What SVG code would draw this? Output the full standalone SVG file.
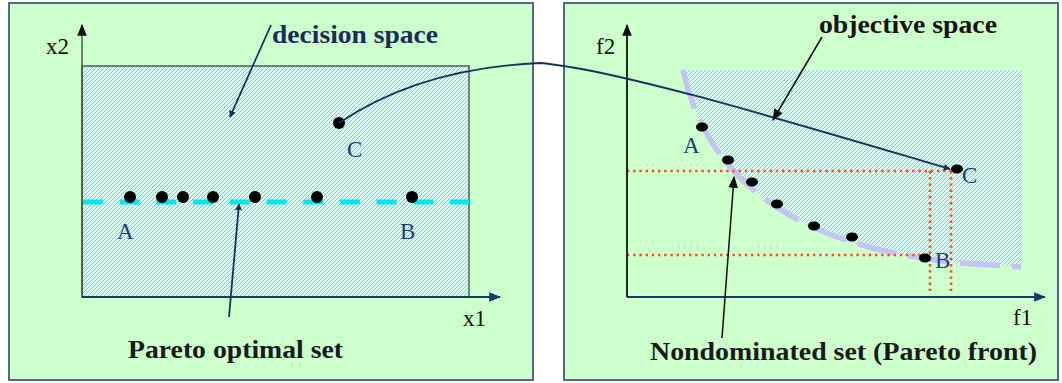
<svg xmlns="http://www.w3.org/2000/svg" width="1062" height="383" viewBox="0 0 1062 383">
<defs>
<pattern id="hatch" width="4" height="4" patternUnits="userSpaceOnUse">
<rect width="4" height="4" fill="#d6faf0"/>
<path d="M-1,1 L1,-1 M0,4 L4,0 M3,5 L5,3" stroke="#52dcbc" stroke-width="0.9"/>
</pattern>
<marker id="ah" viewBox="0 0 10 10" refX="9" refY="5" markerWidth="7" markerHeight="7" orient="auto" markerUnits="userSpaceOnUse">
<path d="M0,0 L10,5 L0,10 z" fill="#1a2f5a"/>
</marker>
<marker id="ahk" viewBox="0 0 10 10" refX="9" refY="5" markerWidth="12" markerHeight="12" orient="auto" markerUnits="userSpaceOnUse">
<path d="M0,1 L10,5 L0,9 z" fill="#111111"/>
</marker>
<marker id="ahb" viewBox="0 0 10 10" refX="9" refY="5" markerWidth="12" markerHeight="12" orient="auto" markerUnits="userSpaceOnUse">
<path d="M0,1 L10,5 L0,9 z" fill="#1a3a66"/>
</marker>
</defs>
<style>
.panel{fill:#ccffcc;stroke:#4f6a7e;stroke-width:2}
.title{font-family:"Liberation Serif","Times New Roman",serif;font-weight:bold;font-size:25px}
.axl{font-family:"Liberation Serif","Times New Roman",serif;font-size:23px;fill:#111}
.pt{font-family:"Liberation Serif","Times New Roman",serif;font-size:23px;fill:#1f3a7a}
.conn{fill:none;stroke:#1a2f5a;stroke-width:1.8}
.red{fill:none;stroke:#ff4a2a;stroke-width:2.6;stroke-dasharray:2.4 3.8}
.dot{fill:#000}
</style>
<rect width="1062" height="383" fill="#ffffff"/>
<g id="left-panel">
<rect class="panel" x="9" y="3" width="524" height="377"/>
<rect x="82" y="66" width="387" height="231" fill="url(#hatch)" stroke="#4a5a6a" stroke-width="1.5"/>
<line x1="83" y1="202" x2="469" y2="202" stroke="#00e8f0" stroke-width="5" stroke-dasharray="20 16.7"/>
<line x1="82" y1="297" x2="82" y2="25" stroke="#555" stroke-width="1.5" marker-end="url(#ahk)"/>
<line x1="82" y1="297" x2="500" y2="297" stroke="#1a3a66" stroke-width="2" marker-end="url(#ahb)"/>
<text class="axl" x="46" y="54">x2</text>
<text class="axl" x="463" y="326">x1</text>
<text class="title" x="272" y="43" fill="#1c2a5c" textLength="166" lengthAdjust="spacingAndGlyphs">decision space</text>
<text class="title" x="128" y="358" fill="#1a1a1a" textLength="215" lengthAdjust="spacingAndGlyphs">Pareto optimal set</text>
</g>
<g id="decision-points">
<circle class="dot" cx="130" cy="197" r="6"/>
<circle class="dot" cx="162" cy="197" r="6"/>
<circle class="dot" cx="183" cy="197" r="6"/>
<circle class="dot" cx="213" cy="197" r="6"/>
<circle class="dot" cx="255" cy="197" r="6"/>
<circle class="dot" cx="317" cy="197" r="6"/>
<circle class="dot" cx="412" cy="197" r="6"/>
<circle class="dot" cx="339" cy="123" r="6"/>
<text class="pt" x="117" y="239">A</text>
<text class="pt" x="400" y="239">B</text>
<text class="pt" x="347" y="157">C</text>
</g>
<g id="right-panel">
<rect class="panel" x="564" y="3" width="494" height="377"/>
<path d="M683,70 L1021,70 L1021,267 L960,264 Q720,240 683,70 Z" fill="url(#hatch)"/>
<path d="M683,70 Q720,240 960,263 L1021,267" fill="none" stroke="#c4c4f4" stroke-width="5.5" stroke-dasharray="40 12"/>
<line class="red" x1="627" y1="171" x2="955" y2="171"/>
<line class="red" x1="627" y1="255" x2="925" y2="255"/>
<line class="red" x1="930" y1="171" x2="930" y2="291"/>
<line class="red" x1="951" y1="171" x2="951" y2="291"/>
<line x1="627" y1="297" x2="627" y2="25" stroke="#111" stroke-width="1.8" marker-end="url(#ahk)"/>
<line x1="627" y1="297" x2="1045" y2="297" stroke="#1a3a66" stroke-width="2" marker-end="url(#ahb)"/>
<text class="axl" x="596" y="54">f2</text>
<text class="axl" x="1013" y="325">f1</text>
<text class="title" x="819" y="33" fill="#1a1010" textLength="178" lengthAdjust="spacingAndGlyphs">objective space</text>
<text class="title" x="650" y="360" fill="#1a1a1a" textLength="387" lengthAdjust="spacingAndGlyphs">Nondominated set (Pareto front)</text>
</g>
<g id="objective-points">
<ellipse class="dot" cx="702" cy="127" rx="6" ry="4.5"/>
<ellipse class="dot" cx="728" cy="160" rx="6" ry="4.5"/>
<ellipse class="dot" cx="752" cy="182" rx="6" ry="4.5"/>
<ellipse class="dot" cx="777" cy="204" rx="6" ry="4.5"/>
<ellipse class="dot" cx="814" cy="226" rx="6" ry="4.5"/>
<ellipse class="dot" cx="852" cy="237" rx="6" ry="4.5"/>
<ellipse class="dot" cx="925" cy="258" rx="6" ry="4.5"/>
<ellipse class="dot" cx="957" cy="169" rx="6" ry="4.5"/>
<text class="pt" x="683" y="153" font-size="21">A</text>
<text class="pt" x="935" y="268" font-size="21">B</text>
<text class="pt" x="962" y="183" font-size="21">C</text>
</g>
<g id="connectors">
<path class="conn" d="M339,123 Q420,68 540,63 C620,70 800,125 950,169" marker-end="url(#ah)"/>
<line class="conn" x1="271" y1="25" x2="230" y2="117" marker-end="url(#ah)"/>
<line class="conn" x1="229" y1="317" x2="239" y2="204" marker-end="url(#ah)"/>
<line x1="822" y1="37" x2="773" y2="120" stroke="#111" stroke-width="1.5" marker-end="url(#ahk)"/>
<line x1="722" y1="338" x2="734" y2="177" stroke="#111" stroke-width="1.5" marker-end="url(#ahk)"/>
</g>
</svg>
